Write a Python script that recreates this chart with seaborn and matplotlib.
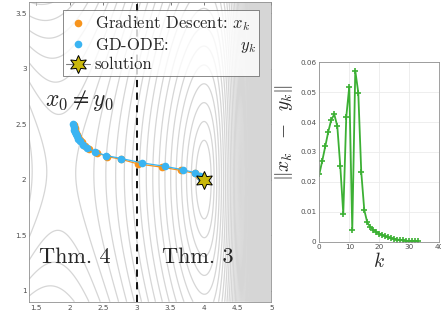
import numpy as np
import pandas as pd
import seaborn as sns
import matplotlib
matplotlib.use("Agg")
import matplotlib.pyplot as plt
from matplotlib.lines import Line2D
from matplotlib.ticker import FormatStrFormatter

# GD-ODE iterates y_k (blue)
ode_x = [2.05, 2.058, 2.068, 2.08, 2.094, 2.11, 2.13, 2.156, 2.196, 2.265, 2.38, 2.54,
         2.767, 3.07, 3.41, 3.69, 3.87, 3.934, 3.96, 3.975, 3.984, 3.99, 3.993, 3.995,
         3.997, 3.998, 3.998, 3.999, 3.999, 3.999, 4.0, 4.0, 4.0, 4.0]
ode_y = [2.50, 2.47, 2.45, 2.43, 2.41, 2.39, 2.37, 2.35, 2.315, 2.286, 2.247, 2.217,
         2.19, 2.151, 2.12, 2.088, 2.061, 2.036, 2.018, 2.01, 2.006, 2.004, 2.003, 2.002,
         2.001, 2.001, 2.0, 2.0, 2.0, 2.0, 2.0, 2.0, 2.0, 2.0]
# gradient descent iterates x_k (orange)
gd_x = [2.07, 2.075, 2.085, 2.098, 2.112, 2.13, 2.152, 2.18, 2.225, 2.29, 2.41, 2.56,
        2.77, 3.01, 3.37, 3.66, 3.86, 3.93, 3.958, 3.974, 3.983, 3.989, 3.992, 3.995,
        3.997, 3.998, 3.998, 3.999, 3.999, 3.999, 4.0, 4.0, 4.0, 4.0]
gd_y = [2.49, 2.465, 2.445, 2.42, 2.40, 2.38, 2.36, 2.335, 2.305, 2.275, 2.24, 2.208,
        2.182, 2.142, 2.112, 2.082, 2.056, 2.032, 2.016, 2.009, 2.005, 2.003, 2.002, 2.001,
        2.001, 2.0, 2.0, 2.0, 2.0, 2.0, 2.0, 2.0, 2.0, 2.0]
sol = (4.0, 2.0)

# ||x_k - y_k|| vs k
k_vals = list(range(34))
diff_vals = [0.0225, 0.0271, 0.0319, 0.0368, 0.0408, 0.0426, 0.0387, 0.0253, 0.0093,
             0.0418, 0.0519, 0.0038, 0.0572, 0.0499, 0.0232, 0.0106, 0.0064, 0.0049,
             0.0040, 0.0033, 0.0027, 0.0022, 0.0018, 0.0014, 0.0011, 0.0009, 0.0007,
             0.0005, 0.0004, 0.0003, 0.0002, 0.0002, 0.0001, 0.0001]

sns.set_style("white")
plt.rcParams['font.family'] = ['cmr10', 'DejaVu Serif']
plt.rcParams['mathtext.fontset'] = 'cm'
plt.rcParams['axes.formatter.use_mathtext'] = True

orange = "#f7941d"
blue = "#3ab4f2"
green = "#3cb034"
star_col = "#c9b80c"
tick_col = "#4d4d4d"

fig = plt.figure(figsize=(4.41, 3.2), dpi=100)
ax = fig.add_axes([0.0665, 0.057, 0.549, 0.937])
ax2 = fig.add_axes([0.724, 0.245, 0.272, 0.56])

# background objective: saddle near x=1.9, minimum at (4, 2), steep wall on the right
gx = np.linspace(1.4, 5.0, 600)
gy = np.linspace(0.9, 3.6, 400)
X, Y = np.meshgrid(gx, gy)
F = ((X - 4) ** 2 * (X - 0.8)
     + (0.5 + 0.2 * (4 - X) ** 2) * (Y - 2.0 - 0.03 * (4 - X)) ** 2
     + 1.6 * (X - 4) ** 2 * np.exp(4.1 * (X - 4)))
S = np.sqrt(F)
ax.contour(X, Y, S, levels=np.arange(0.25, 12, 0.12),
           colors="#d6d6d6", linewidths=0.9)

ax.axvline(3, color="black", ls=(0, (4, 3)), lw=1.3)

df_gd = pd.DataFrame({"x": gd_x, "y": gd_y})
df_ode = pd.DataFrame({"x": ode_x, "y": ode_y})
sns.lineplot(data=df_gd, x="x", y="y", sort=False, estimator=None, ax=ax,
             color=orange, marker="o", markersize=5.5, markeredgewidth=0, lw=0.9)
sns.lineplot(data=df_ode, x="x", y="y", sort=False, estimator=None, ax=ax,
             color=blue, marker="o", markersize=5.5, markeredgewidth=0, lw=0.9)
ax.plot([sol[0]], [sol[1]], marker=(6, 1, 0), markersize=13, color=star_col,
        markeredgecolor="black", markeredgewidth=0.7, ls="none", zorder=5)

ax.text(1.55, 1.25, "Thm. 4", fontsize=16)
ax.text(3.37, 1.25, "Thm. 3", fontsize=16)
ax.text(1.63, 2.66, r"$x_0 \neq y_0$", fontsize=17)

ax.set_xlim(1.4, 5.0)
ax.set_ylim(0.9, 3.6)
ax.set_xticks([1.5, 2, 2.5, 3, 3.5, 4, 4.5, 5])
ax.set_yticks([1, 1.5, 2, 2.5, 3, 3.5])
ax.xaxis.set_major_formatter(FormatStrFormatter("%g"))
ax.yaxis.set_major_formatter(FormatStrFormatter("%g"))
ax.set_xlabel("")
ax.set_ylabel("")

handles = [
    Line2D([], [], ls="none", marker="o", color=orange, markersize=5.5, markeredgewidth=0),
    Line2D([], [], ls="none", marker="o", color=blue, markersize=5.5, markeredgewidth=0),
    Line2D([], [], color="#808080", lw=0.8, marker=(6, 1, 0), markersize=13,
           markerfacecolor=star_col, markeredgecolor="black", markeredgewidth=0.7),
]
labels = [r"Gradient Descent: $x_k$", r"GD-ODE:             $y_k$", "solution"]
leg = ax.legend(handles, labels, loc="upper left", bbox_to_anchor=(0.139, 0.973),
                fontsize=12, frameon=True, fancybox=False, borderpad=0.2,
                handlelength=1.4, handletextpad=0.3, labelspacing=0.15,
                borderaxespad=0)
leg.get_frame().set_edgecolor("#555555")
leg.get_frame().set_linewidth(0.6)

df_diff = pd.DataFrame({"k": k_vals, "d": diff_vals})
sns.lineplot(data=df_diff, x="k", y="d", ax=ax2, color=green, marker="+",
             markersize=5, markeredgewidth=1.2, markeredgecolor=green, lw=1.3)
ax2.set_xlim(0, 40)
ax2.set_ylim(0, 0.06)
ax2.set_xticks([0, 10, 20, 30, 40])
ax2.set_yticks([0, 0.01, 0.02, 0.03, 0.04, 0.05, 0.06])
ax2.xaxis.set_major_formatter(FormatStrFormatter("%g"))
ax2.yaxis.set_major_formatter(FormatStrFormatter("%g"))
ax2.grid(True, color="#ebebeb", lw=0.6)
ax2.set_xlabel(r"$k$", fontsize=14, labelpad=1)
ax2.set_ylabel(r"$\|x_k\;\;-\;\;y_k\|$", fontsize=14)
ax2.yaxis.set_label_coords(-0.205, 0.61)

for a in (ax, ax2):
    a.tick_params(direction="in", length=2.5, width=0.5, labelsize=5.2,
                  colors="#444444", labelcolor=tick_col, top=True, right=True, pad=2)
    for lab in a.get_xticklabels() + a.get_yticklabels():
        lab.set_family("DejaVu Sans")
    for s in a.spines.values():
        s.set_color("#909090")
        s.set_linewidth(0.6)
ax2.tick_params(top=False, right=False, length=0)

fig.savefig("out.png", dpi=100)
